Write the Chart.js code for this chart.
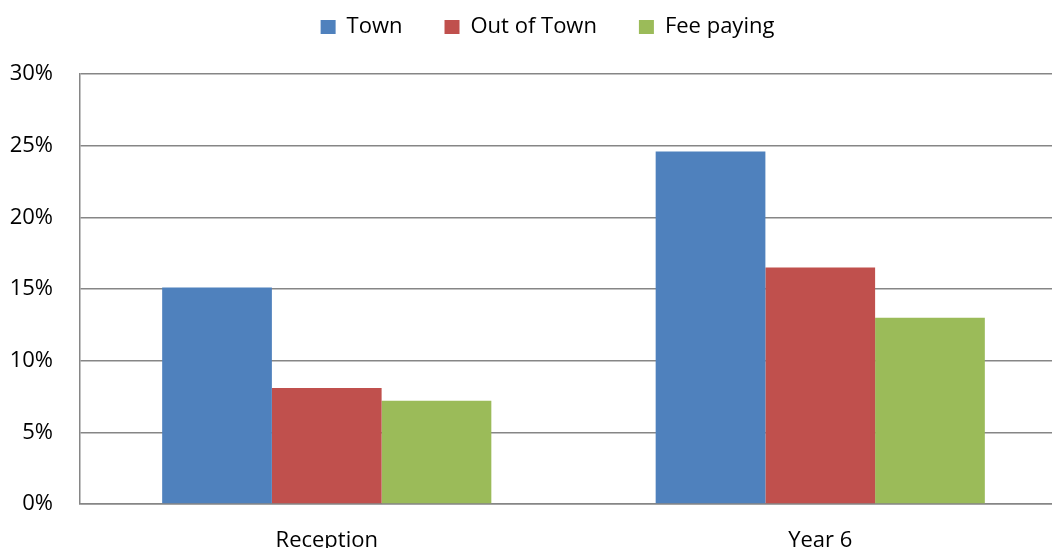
<!DOCTYPE html>
<html>
<head>
<meta charset="utf-8">
<script src="https://cdn.jsdelivr.net/npm/chart.js@4"></script>
<style>
  html, body { margin: 0; padding: 0; overflow: hidden; background: #fff; }
  #wrap { width: 1067px; height: 548px; position: relative; }
</style>
</head>
<body>
<div id="wrap"><canvas id="chart"></canvas></div>
<script>
const categories = ["Reception", "Year 6"]
const town = [15.1, 24.6]
const outOfTown = [8.1, 16.5]
const feePaying = [7.2, 13.0]
const seriesNames = ["Town", "Out of Town", "Fee paying"]
const yTicks = [0, 5, 10, 15, 20, 25, 30]

const font = "'Open Sans', sans-serif"

// legend sits in a 74px band, items spaced like the original
const legendSpacing = {
  id: "legendSpacing",
  afterInit(chart) {
    const lg = chart.legend
    const fit = lg.fit
    const draw = lg.draw
    lg.fit = function () { fit.call(this); this.height = 74 }
    lg.draw = function (area) {
      const ctx = this.ctx
      ctx.save()
      ctx.translate(14, -26)
      draw.call(this, area)
      ctx.restore()
    }
  }
}

const ctx = document.getElementById("chart").getContext("2d")
new Chart(ctx, {
  type: "bar",
  data: {
    labels: categories,
    datasets: [
      { label: seriesNames[0], data: town, backgroundColor: "#4F81BD" },
      { label: seriesNames[1], data: outOfTown, backgroundColor: "#C0504D" },
      { label: seriesNames[2], data: feePaying, backgroundColor: "#9BBB59" }
    ]
  },
  options: {
    responsive: true,
    maintainAspectRatio: false,
    animation: false,
    layout: { padding: 0 },
    datasets: {
      bar: { barPercentage: 1, categoryPercentage: 0.667, borderWidth: 0 }
    },
    plugins: {
      tooltip: { enabled: false },
      legend: {
        position: "top",
        labels: {
          font: { family: font, size: 22 },
          color: "#000",
          boxWidth: 15,
          boxHeight: 14,
          padding: 42
        }
      }
    },
    scales: {
      x: {
        grid: { display: false },
        border: { display: true, color: "#868686", width: 1.5 },
        ticks: { font: { family: font, size: 22 }, color: "#000", padding: 16 },
        afterFit: s => { s.height = 44 }
      },
      y: {
        min: 0,
        max: 30,
        afterBuildTicks: s => { s.ticks = yTicks.map(v => ({ value: v })) },
        grid: { color: "#868686", lineWidth: 1.5, drawTicks: false },
        border: { display: true, color: "#868686", width: 1.5 },
        ticks: {
          font: { family: font, size: 22 },
          color: "#000",
          padding: 27,
          callback: v => v + "%"
        },
        afterFit: s => { s.width = 80 }
      }
    }
  },
  plugins: [legendSpacing]
})
</script>
</body>
</html>
